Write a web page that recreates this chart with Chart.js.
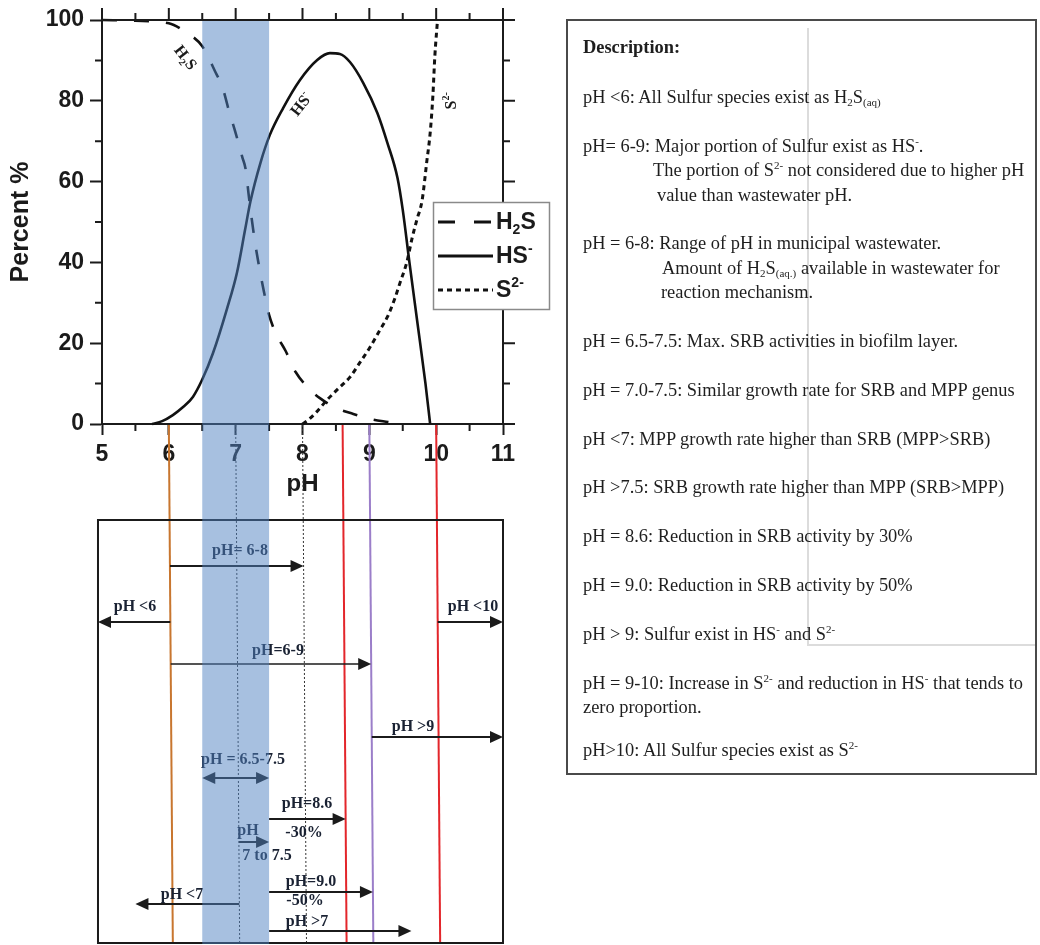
<!DOCTYPE html>
<html>
<head>
<meta charset="utf-8">
<title>Sulfur speciation vs pH</title>
<script src="https://cdn.jsdelivr.net/npm/chart.js@4.4.0/dist/chart.umd.min.js"></script>
<style>
  html, body { margin: 0; padding: 0; background: #fff; }
  #wrap { position: relative; width: 1040px; height: 945px; overflow: hidden; }
  #c { position: absolute; left: 0; top: 0; }
  #desc {
    position: absolute; left: 566px; top: 19px; width: 467px; height: 752px;
    border: 2px solid #4a4a4a; background: transparent;
    font-family: "Liberation Serif", "Times New Roman", serif; font-size: 18.4px;
    color: #1e1e1e; line-height: 24.4px; padding: 0; box-sizing: content-box;
  }
  #desc .inner { position: absolute; left: 15px; top: 14px; }
  #desc .p { margin: 0 0 24.4px 0; white-space: nowrap; }
  #desc .p.first { margin-bottom: 25.6px; }
  #desc .p.last { margin-top: -6px; }
  #desc .b { font-weight: bold; }
  #desc .ln { display: block; }
  #desc sub, #desc sup { font-size: 11px; line-height: 0; }
  #desc sub { vertical-align: -3px; }
  #desc sup { vertical-align: 7px; }
  .ghost { position: absolute; background: #dcdcdc; }
</style>
</head>
<body>
<div id="wrap">
  <canvas id="c" width="1040" height="945"></canvas>
  <div class="ghost" style="left:807px; top:28px; width:1.5px; height:617px;"></div>
  <div class="ghost" style="left:807px; top:644px; width:230px; height:1.5px;"></div>
  <div id="desc">
    <div class="inner">
      <div class="p first b">Description:</div>
      <div class="p">pH &lt;6: All Sulfur species exist as H<sub>2</sub>S<sub>(aq)</sub></div>
      <div class="p">pH= 6-9: Major portion of Sulfur exist as HS<sup>-</sup>.
        <span class="ln" style="padding-left:70px">The portion of S<sup>2-</sup> not considered due to higher pH</span>
        <span class="ln" style="padding-left:74px">value than wastewater pH.</span></div>
      <div class="p">pH = 6-8: Range of pH in municipal wastewater.
        <span class="ln" style="padding-left:79px">Amount of H<sub>2</sub>S<sub>(aq.)</sub> available in wastewater for</span>
        <span class="ln" style="padding-left:78px">reaction mechanism.</span></div>
      <div class="p">pH = 6.5-7.5: Max. SRB activities in biofilm layer.</div>
      <div class="p">pH = 7.0-7.5: Similar growth rate for SRB and MPP genus</div>
      <div class="p">pH &lt;7: MPP growth rate higher than SRB (MPP&gt;SRB)</div>
      <div class="p">pH &gt;7.5: SRB growth rate higher than MPP (SRB&gt;MPP)</div>
      <div class="p">pH = 8.6: Reduction in SRB activity by 30%</div>
      <div class="p">pH = 9.0: Reduction in SRB activity by 50%</div>
      <div class="p">pH &gt; 9: Sulfur exist in HS<sup>-</sup> and S<sup>2-</sup></div>
      <div class="p">pH = 9-10: Increase in S<sup>2-</sup> and reduction in HS<sup>-</sup> that tends to<br>zero proportion.</div>
      <div class="p last">pH&gt;10: All Sulfur species exist as S<sup>2-</sup></div>
    </div>
  </div>
</div>
<script>
// ---- axis ticks ----
const phTicks  = [5, 6, 7, 8, 9, 10, 11];
const pctTicks = [0, 20, 40, 60, 80, 100];

// ---- species fractions (% of total sulfide) versus pH ----
const seriesLabels = ['H2S', 'HS-', 'S2-'];

const h2sPH  = [5.0, 5.5, 6.0, 6.25, 6.5, 6.7, 6.8, 6.9, 7.0, 7.1, 7.15, 7.2, 7.28, 7.35, 7.42, 7.5, 7.6, 7.75, 7.9, 8.1, 8.26, 8.5, 8.76, 9.0, 9.28, 9.4];
const h2sPct = [100, 99.8, 99.2, 97, 93.5, 87, 83.5, 77.5, 72, 66, 63, 56, 46, 39, 33, 27, 22.5, 18, 12.8, 8.7, 6.4, 4.0, 2.5, 1.3, 0.5, 0.2];

const hsPH  = [5.75, 5.9, 6.06, 6.2, 6.36, 6.5, 6.66, 6.87, 7.02, 7.14, 7.22, 7.37, 7.51, 7.71, 7.96, 8.22, 8.41, 8.56, 8.71, 8.91, 9.12, 9.27, 9.42, 9.5, 9.6, 9.72, 9.84, 9.91];
const hsPct = [0, 0.7, 2.2, 4, 6.7, 11, 17.5, 28.5, 37.5, 48, 55, 64.6, 71.5, 78.2, 85.1, 90.1, 91.8, 91.6, 89.6, 84.4, 77, 69.6, 61, 53, 40, 25, 10, 0];

const s2PH  = [8.0, 8.1, 8.2, 8.37, 8.55, 8.71, 8.85, 9.01, 9.15, 9.27, 9.38, 9.46, 9.56, 9.64, 9.71, 9.79, 9.86, 9.91, 9.95, 9.98, 10.02];
const s2Pct = [0, 1.2, 2.8, 6, 9, 11.6, 15, 19, 23, 26.5, 31, 35, 40, 46, 50.5, 55.4, 65, 72, 81, 91, 100];

// ---- wastewater / SRB activity band and reference pH lines ----
const bandPH   = [6.5, 7.5];
const markerPH = [6, 7, 8, 8.6, 9, 10];

// ---- pH ranges shown as arrows under the plot ----
const spanLabels = ['pH= 6-8', 'pH <6', 'pH <10', 'pH=6-9', 'pH >9', 'pH = 6.5-7.5', 'pH=8.6', 'pH', 'pH=9.0', 'pH <7', 'pH >7'];
const spanNotes  = ['', '', '', '', '', '', '-30%', '7 to 7.5', '-50%', '', ''];
const spanFrom   = [6, 6, 10, 6, 9, 6.5, 7.5, 7, 7.5, 7, 7.5];
const spanTo     = [8, 4.94, 11, 9, 11, 7.5, 8.6, 7.5, 9, 5.5, 9.63];

// ---- layout & styles ----
const SANS  = '"Liberation Sans", Arial, sans-serif';
const SERIF = '"Liberation Serif", "Times New Roman", serif';
const INK = '#1b1b1b';
const PANEL = { top: 520, bottom: 943 };
const SHEAR = 0.0077;          // slight lean of the reference lines
const MARKER_STYLE = [
  { color: '#c8762f', width: 2 },
  { color: '#333', width: 1, dash: [2, 2] },
  { color: '#333', width: 1, dash: [2, 2] },
  { color: '#e3262b', width: 2 },
  { color: '#9b7ec9', width: 2 },
  { color: '#e3262b', width: 2 }
];
const ROWS = [
  { y: 566, lx: 240, ly: 551 },
  { y: 622, lx: 135, ly: 607 },
  { y: 622, lx: 473, ly: 607 },
  { y: 664, lx: 278, ly: 651, w: 1.5 },
  { y: 737, lx: 413, ly: 727 },
  { y: 778, lx: 243, ly: 760, both: true },
  { y: 819, lx: 307, ly: 804, nx: 304, ny: 833 },
  { y: 842, lx: 248, ly: 831, nx: 267, ny: 856 },
  { y: 892, lx: 311, ly: 882, nx: 305, ny: 901 },
  { y: 904, lx: 182, ly: 895 },
  { y: 931, lx: 307, ly: 922 }
];
// in-plot curve tags, anchored in data space
const CURVE_TAGS = [
  { ph: 6.24, pct: 90.6, rot: 52,  parts: [['H', 0], ['2', 1], ['S', 0]] },
  { ph: 7.99, pct: 79,   rot: -52, parts: [['HS', 0], ['-', -1]] },
  { ph: 10.24, pct: 80,  rot: -90, parts: [['S', 0], ['2-', -1]] }
];
const LEGEND_PARTS = [
  [['H', 0], ['2', 1], ['S', 0]],
  [['HS', 0], ['-', -1]],
  [['S', 0], ['2', -1], ['-', -1]]
];

const toPts = (xs, ys) => xs.map((x, i) => ({ x: x, y: ys[i] }));

// text with sub/superscript pieces; shift 1 = subscript, -1 = superscript
function richWidth(ctx, parts, size, weight, family) {
  let w = 0;
  parts.forEach(([t, s]) => {
    ctx.font = `${weight} ${s ? Math.round(size * 0.62) : size}px ${family}`;
    w += ctx.measureText(t).width;
  });
  return w;
}
function drawRich(ctx, parts, x, y, size, weight, family, align) {
  let cx = x;
  if (align === 'center') cx = x - richWidth(ctx, parts, size, weight, family) / 2;
  ctx.textBaseline = 'middle';
  ctx.textAlign = 'left';
  parts.forEach(([t, s]) => {
    const fs = s ? Math.round(size * 0.62) : size;
    ctx.font = `${weight} ${fs}px ${family}`;
    const dy = s === 1 ? size * 0.32 : (s === -1 ? -size * 0.36 : 0);
    ctx.fillText(t, cx, y + dy);
    cx += ctx.measureText(t).width;
  });
}

function arrowHead(ctx, x, y, dir) {
  ctx.beginPath();
  ctx.moveTo(x, y);
  ctx.lineTo(x - dir * 13, y - 6);
  ctx.lineTo(x - dir * 13, y + 6);
  ctx.closePath();
  ctx.fill();
}

const framePlugin = {
  id: 'frame',
  beforeDraw(chart) {
    const ctx = chart.ctx;
    ctx.save();
    ctx.fillStyle = '#fff';
    ctx.fillRect(0, 0, chart.width, chart.height);
    ctx.restore();
  },
  afterDraw(chart) {
    const ctx = chart.ctx;
    const xs = chart.scales.x, ys = chart.scales.y;
    const a = chart.chartArea;
    const lx = v => xs.getPixelForValue(v);
    const leanX = (v, y) => lx(v) + (y - a.bottom) * SHEAR;
    ctx.save();

    // mirrored frame + minor ticks
    ctx.strokeStyle = INK;
    ctx.lineWidth = 2;
    ctx.beginPath();
    ctx.moveTo(a.left, a.top); ctx.lineTo(a.right, a.top);
    ctx.moveTo(a.right, a.top); ctx.lineTo(a.right, a.bottom);
    phTicks.forEach(v => { ctx.moveTo(lx(v), a.top); ctx.lineTo(lx(v), a.top - 12); });
    pctTicks.forEach(v => { const y = ys.getPixelForValue(v); ctx.moveTo(a.right, y); ctx.lineTo(a.right + 12, y); });
    for (let v = 5.5; v < 11; v += 1) {
      const x = lx(v);
      ctx.moveTo(x, a.bottom); ctx.lineTo(x, a.bottom + 7);
      ctx.moveTo(x, a.top); ctx.lineTo(x, a.top - 7);
    }
    for (let v = 10; v < 100; v += 20) {
      const y = ys.getPixelForValue(v);
      ctx.moveTo(a.left, y); ctx.lineTo(a.left - 7, y);
      ctx.moveTo(a.right, y); ctx.lineTo(a.right + 7, y);
    }
    ctx.stroke();

    // curve tags
    ctx.fillStyle = INK;
    CURVE_TAGS.forEach(t => {
      ctx.save();
      ctx.translate(lx(t.ph), ys.getPixelForValue(t.pct));
      ctx.rotate(t.rot * Math.PI / 180);
      drawRich(ctx, t.parts, 0, 0, 16, 'bold', SERIF, 'center');
      ctx.restore();
    });

    // legend
    const L = { x: 433, y: 202, w: 116, h: 107 };
    ctx.fillStyle = '#fff';
    ctx.fillRect(L.x, L.y, L.w, L.h);
    ctx.strokeStyle = '#8a8a8a';
    ctx.lineWidth = 1.5;
    ctx.strokeRect(L.x + 0.5, L.y + 0.5, L.w, L.h);
    const legendDash = [[17, 19], [], [5, 4]];
    chart.data.datasets.forEach((ds, i) => {
      const y = L.y + 20 + i * 34;
      ctx.strokeStyle = ds.borderColor;
      ctx.lineWidth = 3;
      ctx.setLineDash(legendDash[i]);
      ctx.beginPath(); ctx.moveTo(L.x + 5, y); ctx.lineTo(L.x + 60, y); ctx.stroke();
      ctx.setLineDash([]);
      ctx.fillStyle = INK;
      drawRich(ctx, LEGEND_PARTS[i], L.x + 63, y + 1, 23, 'bold', SANS, 'left');
    });

    // reference pH lines running down through the lower panel
    markerPH.forEach((v, i) => {
      const st = MARKER_STYLE[i];
      ctx.strokeStyle = st.color;
      ctx.lineWidth = st.width;
      ctx.setLineDash(st.dash || []);
      ctx.beginPath();
      ctx.moveTo(leanX(v, a.bottom + 1), a.bottom + 1);
      ctx.lineTo(leanX(v, PANEL.bottom), PANEL.bottom);
      ctx.stroke();
    });
    ctx.setLineDash([]);

    // lower panel frame
    ctx.strokeStyle = INK;
    ctx.lineWidth = 2;
    ctx.strokeRect(lx(4.94), PANEL.top, lx(11) - lx(4.94), PANEL.bottom - PANEL.top);

    // pH range arrows
    const spanX = (v, y) => markerPH.includes(v) ? leanX(v, y) : lx(v);
    spanLabels.forEach((lab, i) => {
      const r = ROWS[i];
      const x1 = spanX(spanFrom[i], r.y), x2 = spanX(spanTo[i], r.y);
      const dir = x2 > x1 ? 1 : -1;
      ctx.strokeStyle = INK; ctx.fillStyle = INK;
      ctx.lineWidth = r.w || 2;
      ctx.beginPath();
      ctx.moveTo(r.both ? x1 + dir * 10 : x1, r.y);
      ctx.lineTo(x2 - dir * 10, r.y);
      ctx.stroke();
      arrowHead(ctx, x2, r.y, dir);
      if (r.both) arrowHead(ctx, x1, r.y, -dir);
      ctx.fillStyle = '#1a2233';
      ctx.font = `bold 16px ${SERIF}`;
      ctx.textAlign = 'center';
      ctx.textBaseline = 'middle';
      ctx.fillText(lab, r.lx, r.ly);
      if (spanNotes[i]) ctx.fillText(spanNotes[i], r.nx, r.ny);
    });

    // translucent pH 6.5-7.5 band over everything
    ctx.fillStyle = 'rgba(79, 129, 193, 0.5)';
    ctx.fillRect(lx(bandPH[0]), a.top + 1, lx(bandPH[1]) - lx(bandPH[0]), PANEL.bottom - a.top);

    ctx.restore();
  }
};

const lineStyle = {
  borderColor: '#111', pointRadius: 0, fill: false, clip: false,
  cubicInterpolationMode: 'monotone'
};

new Chart(document.getElementById('c'), {
  type: 'line',
  data: {
    datasets: [
      Object.assign({ label: seriesLabels[0], data: toPts(h2sPH, h2sPct), borderWidth: 2.6, borderDash: [15, 17] }, lineStyle),
      Object.assign({ label: seriesLabels[1], data: toPts(hsPH, hsPct), borderWidth: 2.6 }, lineStyle),
      Object.assign({ label: seriesLabels[2], data: toPts(s2PH, s2Pct), borderWidth: 3, borderDash: [5, 4] }, lineStyle)
    ]
  },
  options: {
    responsive: false,
    animation: false,
    devicePixelRatio: 1,
    layout: { padding: { left: 0, top: 20, right: 537, bottom: 446 } },
    plugins: { legend: { display: false }, tooltip: { enabled: false } },
    scales: {
      x: {
        type: 'linear', min: 5, max: 11,
        afterFit(s) { s.height = 75; },
        afterBuildTicks(s) { s.ticks = phTicks.map(v => ({ value: v })); },
        ticks: { font: { family: SANS, size: 23, weight: 'bold' }, color: INK, padding: 6, maxRotation: 0, autoSkip: false },
        grid: { drawOnChartArea: false, drawTicks: true, tickLength: 11, tickWidth: 2, tickColor: INK },
        border: { display: true, width: 2, color: INK },
        title: { display: true, text: 'pH', font: { family: SANS, size: 24, weight: 'bold' }, color: INK, padding: { top: 0, bottom: 0 } }
      },
      y: {
        type: 'linear', min: 0, max: 100,
        afterFit(s) { s.width = 102; },
        afterBuildTicks(s) { s.ticks = pctTicks.map(v => ({ value: v })); },
        ticks: { font: { family: SANS, size: 23, weight: 'bold' }, color: INK, padding: 6, autoSkip: false },
        grid: { drawOnChartArea: false, drawTicks: true, tickLength: 12, tickWidth: 2, tickColor: INK },
        border: { display: true, width: 2, color: INK },
        title: { display: true, text: 'Percent %', font: { family: SANS, size: 25, weight: 'bold' }, color: INK, padding: { top: 6, bottom: 0 } }
      }
    }
  },
  plugins: [framePlugin]
});
</script>
</body>
</html>
